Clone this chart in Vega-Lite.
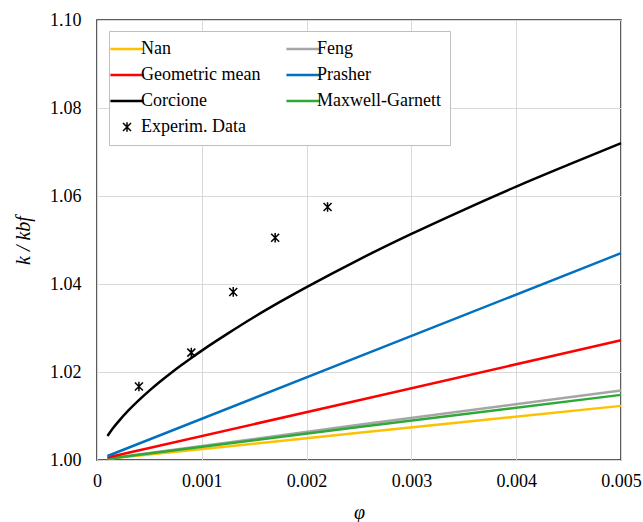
{
  "$schema": "https://vega.github.io/schema/vega-lite/v6.json",
  "width": 524,
  "height": 440,
  "autosize": "none",
  "padding": {"left": 97, "top": 20, "right": 22, "bottom": 62},
  "background": "white",
  "config": {
    "font": "'Liberation Serif', 'Times New Roman', serif",
    "style": {
      "guide-label": {"font": "'Liberation Serif', 'Times New Roman', serif", "fontSize": 18, "fill": "#000000"},
      "guide-title": {"font": "'Liberation Serif', 'Times New Roman', serif", "fontSize": 20, "fontStyle": "italic", "fill": "#000000"}
    },
    "view": {"stroke": "#262626", "strokeWidth": 1.5},
    "axis": {
      "labelFont": "'Liberation Serif', 'Times New Roman', serif",
      "labelFontSize": 18,
      "labelColor": "#000000",
      "ticks": false,
      "domain": false,
      "gridColor": "#D9D9D9",
      "gridWidth": 1,
      "titleFont": "'Liberation Serif', 'Times New Roman', serif",
      "titleFontSize": 20,
      "titleFontStyle": "italic",
      "titleFontWeight": "normal",
      "titleColor": "#000000"
    },
    "legend": {
      "orient": "none",
      "legendX": 12,
      "legendY": 11,
      "columns": 2,
      "direction": "horizontal",
      "strokeColor": "#BFBFBF",
      "fillColor": "white",
      "padding": 9,
      "labelFont": "'Liberation Serif', 'Times New Roman', serif",
      "labelFontSize": 18,
      "labelColor": "#000000",
      "symbolSize": 1100,
      "symbolStrokeWidth": 2.5,
      "rowPadding": 8,
      "columnPadding": 20,
      "labelOffset": 5,
      "labelLimit": 300
    }
  },
  "datasets": {
    "curves": [
      {"series": "Nan", "phi": 0.0001, "k": 1.00025},
      {"series": "Nan", "phi": 0.0025, "k": 1.0062},
      {"series": "Nan", "phi": 0.005, "k": 1.0123},
      {"series": "Feng", "phi": 0.0001, "k": 1.0003},
      {"series": "Feng", "phi": 0.0025, "k": 1.0080},
      {"series": "Feng", "phi": 0.005, "k": 1.0158},
      {"series": "Maxwell-Garnett", "phi": 0.0001, "k": 1.0003},
      {"series": "Maxwell-Garnett", "phi": 0.0025, "k": 1.0075},
      {"series": "Maxwell-Garnett", "phi": 0.005, "k": 1.0148},
      {"series": "Geometric mean", "phi": 0.0001, "k": 1.00055},
      {"series": "Geometric mean", "phi": 0.0025, "k": 1.0136},
      {"series": "Geometric mean", "phi": 0.005, "k": 1.0272},
      {"series": "Prasher", "phi": 0.0001, "k": 1.0009},
      {"series": "Prasher", "phi": 0.0025, "k": 1.0235},
      {"series": "Prasher", "phi": 0.005, "k": 1.047},
      {"series": "Corcione", "phi": 0.0001, "k": 1.00544},
      {"series": "Corcione", "phi": 0.00015, "k": 1.00714},
      {"series": "Corcione", "phi": 0.0002, "k": 1.00861},
      {"series": "Corcione", "phi": 0.0003, "k": 1.01126},
      {"series": "Corcione", "phi": 0.0004, "k": 1.0136},
      {"series": "Corcione", "phi": 0.0005, "k": 1.01576},
      {"series": "Corcione", "phi": 0.0006, "k": 1.01777},
      {"series": "Corcione", "phi": 0.0007, "k": 1.01966},
      {"series": "Corcione", "phi": 0.0008, "k": 1.02146},
      {"series": "Corcione", "phi": 0.0009, "k": 1.0232},
      {"series": "Corcione", "phi": 0.001, "k": 1.02486},
      {"series": "Corcione", "phi": 0.00125, "k": 1.02877},
      {"series": "Corcione", "phi": 0.0015, "k": 1.0325},
      {"series": "Corcione", "phi": 0.00175, "k": 1.03598},
      {"series": "Corcione", "phi": 0.002, "k": 1.03929},
      {"series": "Corcione", "phi": 0.0025, "k": 1.04556},
      {"series": "Corcione", "phi": 0.003, "k": 1.05138},
      {"series": "Corcione", "phi": 0.0035, "k": 1.05687},
      {"series": "Corcione", "phi": 0.004, "k": 1.06213},
      {"series": "Corcione", "phi": 0.0045, "k": 1.06712},
      {"series": "Corcione", "phi": 0.005, "k": 1.072}
    ],
    "exp": [
      {"series": "Experim. Data", "phi": 0.0004, "k": 1.0167},
      {"series": "Experim. Data", "phi": 0.0009, "k": 1.0244},
      {"series": "Experim. Data", "phi": 0.0013, "k": 1.0382},
      {"series": "Experim. Data", "phi": 0.0017, "k": 1.0505},
      {"series": "Experim. Data", "phi": 0.0022, "k": 1.0575}
    ]
  },
  "layer": [
    {
      "data": {"name": "curves"},
      "mark": {"type": "line", "strokeWidth": 2.5, "interpolate": "monotone"},
      "encoding": {
        "x": {
          "field": "phi",
          "type": "quantitative",
          "scale": {"domain": [0, 0.005], "nice": false},
          "axis": {
            "values": [0, 0.001, 0.002, 0.003, 0.004, 0.005],
            "labelExpr": "datum.value == 0 ? '0' : format(datum.value, '.3f')",
            "labelPadding": 12,
            "labelFlush": false,
            "title": "φ",
            "titlePadding": 12
          }
        },
        "y": {
          "field": "k",
          "type": "quantitative",
          "scale": {"domain": [1, 1.1], "nice": false, "zero": false},
          "axis": {
            "values": [1, 1.02, 1.04, 1.06, 1.08, 1.1],
            "format": ".2f",
            "labelPadding": 16,
            "title": "k / kbf",
            "titlePadding": 16
          }
        },
        "color": {
          "field": "series",
          "type": "nominal",
          "title": null,
          "scale": {
            "domain": ["Nan", "Feng", "Geometric mean", "Prasher", "Corcione", "Maxwell-Garnett", "Experim. Data"],
            "range": ["#FFC000", "#A5A5A5", "#FF0000", "#0070C0", "#000000", "#2EA836", "#000000"]
          },
          "legend": {
            "title": null,
            "encode": {
              "symbols": {
                "update": {
                  "size": {"signal": "datum.value === 'Experim. Data' ? 64 : 1100"},
                  "strokeWidth": {"signal": "datum.value === 'Experim. Data' ? 1.5 : 2.5"}
                }
              }
            }
          }
        }
      }
    },
    {
      "data": {"name": "exp"},
      "mark": {"type": "point", "filled": false, "strokeWidth": 1.5, "size": 64, "opacity": 1},
      "encoding": {
        "x": {"field": "phi", "type": "quantitative"},
        "y": {"field": "k", "type": "quantitative"},
        "color": {"field": "series", "type": "nominal", "title": null},
        "shape": {
          "field": "series",
          "type": "nominal",
          "title": null,
          "scale": {
            "domain": ["Nan", "Feng", "Geometric mean", "Prasher", "Corcione", "Maxwell-Garnett", "Experim. Data"],
            "range": ["stroke", "stroke", "stroke", "stroke", "stroke", "stroke", "M-1,-1L1,1M-1,1L1,-1M0,-1.2L0,1.2"]
          },
          "legend": {
            "title": null,
            "encode": {
              "symbols": {
                "update": {
                  "size": {"signal": "datum.value === 'Experim. Data' ? 64 : 1100"},
                  "strokeWidth": {"signal": "datum.value === 'Experim. Data' ? 1.5 : 2.5"}
                }
              }
            }
          }
        }
      }
    }
  ]
}
